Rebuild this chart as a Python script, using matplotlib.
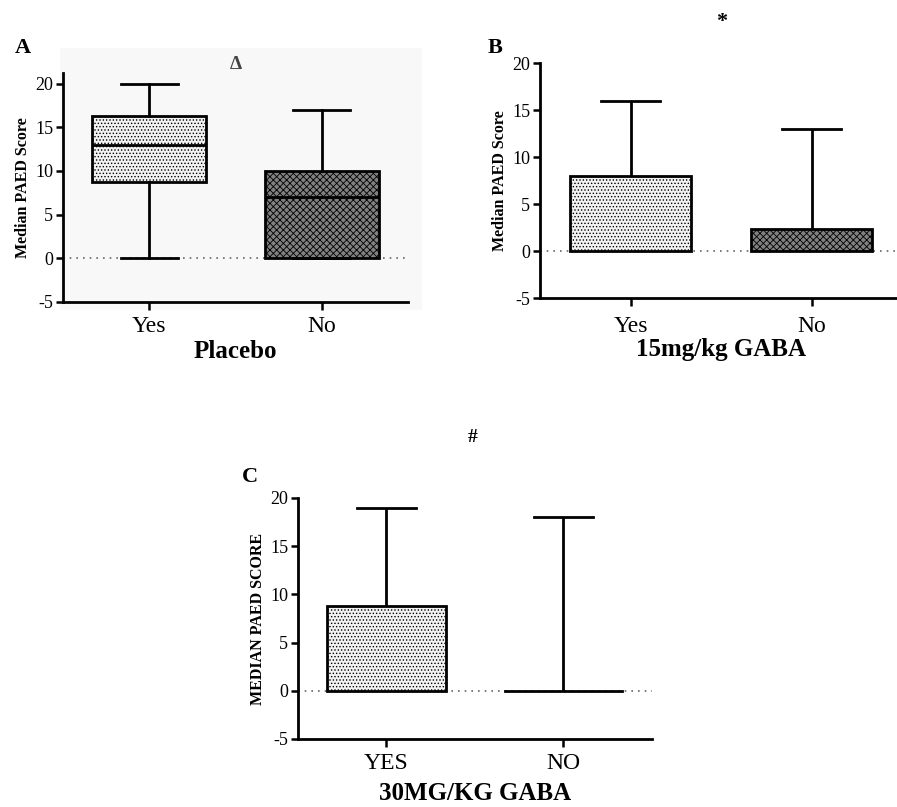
import numpy as np
import matplotlib
matplotlib.use("Agg")
import matplotlib.pyplot as plt
from matplotlib.patches import Rectangle

plt.rcParams['font.family'] = ['Liberation Serif', 'DejaVu Serif']
plt.rcParams['hatch.linewidth'] = 0.6
plt.rcParams['axes.unicode_minus'] = False

groups_ab = ["Yes", "No"]
groups_c = ["YES", "NO"]

# panel A: box plot stats (placebo)
a_whislo = [0, 0]
a_q1 = [8.7, 0]
a_med = [13, 7]
a_q3 = [16.3, 10]
a_whishi = [20, 17]

# panel B: median bars with upper error (15mg/kg)
b_median = [8, 2.3]
b_upper = [16, 13]

# panel C: median bars with upper error (30mg/kg)
c_median = [8.8, 0]
c_upper = [19, 18]

fig = plt.figure(figsize=(8.97, 8.07), dpi=100)

# faint grey background behind panel A
bg = Rectangle((60 / 897, 1 - 310 / 807), 362 / 897, 262 / 807,
               transform=fig.transFigure, facecolor='#f8f8f8',
               edgecolor='none', zorder=-5)
fig.patches.append(bg)

fills = [dict(facecolor='#f2f2f2', hatch='.....'),
         dict(facecolor='#808080', hatch='xxxxx')]


def style_axes(ax, ylim, labels, ylabel, xlabel):
    ax.set_facecolor('none')
    ax.set_xlim(0.5, 2.5)
    ax.set_ylim(*ylim)
    ax.set_yticks([-5, 0, 5, 10, 15, 20])
    ax.set_xticks([1, 2])
    ax.set_xticklabels(labels, fontsize=17)
    ax.tick_params(axis='y', labelsize=13, width=1.8, length=5, pad=2)
    ax.tick_params(axis='x', width=1.8, length=6, pad=4)
    for s in ['top', 'right']:
        ax.spines[s].set_visible(False)
    for s in ['left', 'bottom']:
        ax.spines[s].set_linewidth(2)
    ax.axhline(0, color='#666666', ls=(0, (1, 3)), lw=1.2, zorder=1)
    ax.set_ylabel(ylabel, fontsize=11.5, fontweight='bold', labelpad=3)
    ax.set_xlabel(xlabel, fontsize=18, fontweight='bold', labelpad=0)


# ---- panel A
axA = fig.add_axes([0.0702, 0.6258, 0.3846, 0.2837])
stats = []
for i in range(2):
    stats.append(dict(whislo=a_whislo[i], q1=a_q1[i], med=a_med[i],
                      q3=a_q3[i], whishi=a_whishi[i], fliers=[]))
bp = axA.bxp(stats, positions=[1, 2], widths=0.66, patch_artist=True,
             showfliers=False,
             boxprops=dict(linewidth=2, edgecolor='black'),
             whiskerprops=dict(linewidth=2),
             capprops=dict(linewidth=2),
             medianprops=dict(color='black', linewidth=2),
             capwidths=0.33)
for patch, f in zip(bp['boxes'], fills):
    patch.set_facecolor(f['facecolor'])
    patch.set_hatch(f['hatch'])
for art in bp['boxes'] + bp['whiskers'] + bp['caps'] + bp['medians']:
    art.set_zorder(3)
style_axes(axA, (-5, 21.2), groups_ab, 'Median PAED Score', 'Placebo')
axA.xaxis.labelpad = 2
axA.text(1.5, 21.2, '\u0394', ha='center', va='bottom', fontsize=14,
         fontweight='bold', color='#444444')
fig.text(15 / 897, 1 - 48 / 807, 'A', fontsize=16, fontweight='bold', va='center')


def bar_panel(ax, med, upper, labels, ylabel, xlabel):
    x = np.array([1, 2])
    for i in range(2):
        ax.errorbar(x[i], med[i], yerr=[[0], [upper[i] - med[i]]], fmt='none',
                    ecolor='black', elinewidth=2, capsize=0, zorder=2)
        ax.plot([x[i] - 0.165, x[i] + 0.165], [upper[i], upper[i]],
                color='black', lw=2, zorder=2)
        if med[i] > 0:
            ax.bar(x[i], med[i], width=0.67, edgecolor='black', linewidth=2,
                   facecolor=fills[i]['facecolor'], hatch=fills[i]['hatch'],
                   zorder=3)
        else:
            ax.plot([x[i] - 0.33, x[i] + 0.33], [0, 0], color='black', lw=2,
                    zorder=3)
    style_axes(ax, (-5, 20), labels, ylabel, xlabel)


# ---- panel B
axB = fig.add_axes([0.602, 0.6307, 0.4036, 0.2912])
bar_panel(axB, b_median, b_upper, groups_ab, 'Median PAED Score', '15mg/kg GABA')
axB.tick_params(axis='x', pad=7)
axB.xaxis.labelpad = 1
fig.text(722 / 897, 1 - 22 / 807, '*', fontsize=16, fontweight='bold',
         ha='center', va='center')
fig.text(488 / 897, 1 - 48 / 807, 'B', fontsize=16, fontweight='bold', va='center')

# ---- panel C
axC = fig.add_axes([0.3322, 0.0843, 0.3946, 0.2986])
bar_panel(axC, c_median, c_upper, groups_c, 'MEDIAN PAED SCORE', '30MG/KG GABA')
axC.xaxis.labelpad = 6
fig.text(473 / 897, 1 - 438 / 807, '#', fontsize=14, fontweight='bold',
         ha='center', va='center')
fig.text(242 / 897, 1 - 477 / 807, 'C', fontsize=16, fontweight='bold', va='center')

fig.savefig('out.png', dpi=100)
